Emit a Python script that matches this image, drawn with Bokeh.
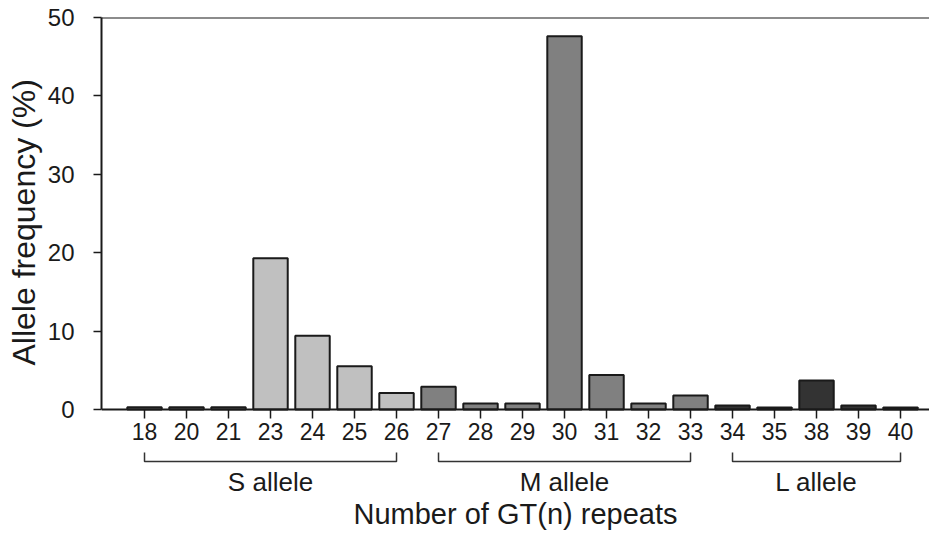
from bokeh.plotting import figure
from bokeh.models import Range1d, Span, FixedTicker, ColumnDataSource, Title
from bokeh.core.properties import value
from bokeh.embed import file_html
from bokeh.resources import INLINE

repeats = ["18", "20", "21", "23", "24", "25", "26", "27", "28", "29",
           "30", "31", "32", "33", "34", "35", "38", "39", "40"]
frequency = [0.3, 0.3, 0.3, 19.3, 9.4, 5.5, 2.1, 2.9, 0.75, 0.75,
             47.6, 4.4, 0.75, 1.8, 0.5, 0.25, 3.7, 0.5, 0.25]
allele_group = ["S"] * 7 + ["M"] * 7 + ["L"] * 5
group_names = ["S allele", "M allele", "L allele"]
group_keys = ["S", "M", "L"]
group_colors = {"S": "#c0c0c0", "M": "#808080", "L": "#333333"}
y_ticks = [0, 10, 20, 30, 40, 50]
y_title = "Allele frequency (%)"
x_title = "Number of GT(n) repeats"

FONT = "Liberation Sans"

xs = list(range(len(repeats)))
src = ColumnDataSource(dict(x=xs, top=frequency,
                            color=[group_colors[g] for g in allele_group]))

p = figure(width=929, height=536, output_backend="svg", toolbar_location=None,
           x_range=Range1d(-1.024, 18.69), y_range=Range1d(-16.2, 50),
           min_border_left=101, min_border_right=0, min_border_top=17,
           min_border_bottom=0)
p.outline_line_color = None
p.grid.visible = False
p.background_fill_color = "white"

p.vbar(x="x", top="top", width=0.82, bottom=0, source=src,
       fill_color="color", line_color="#1a1a1a", line_width=2)

p.add_layout(Span(location=50, dimension="width", line_color="#1a1a1a", line_width=2))

# x axis
xa = p.xaxis[0]
xa.fixed_location = 0
xa.ticker = FixedTicker(ticks=xs)
xa.major_label_overrides = {i: r for i, r in enumerate(repeats)}
xa.minor_tick_line_color = None
xa.major_tick_in = 0
xa.major_tick_out = 9
xa.major_label_standoff = 5
xa.axis_line_width = 2
xa.major_tick_line_width = 1.5
xa.axis_line_color = "#1a1a1a"
xa.major_tick_line_color = "#1a1a1a"
xa.major_label_text_font = FONT
xa.major_label_text_font_size = "23px"
xa.major_label_text_color = "#1a1a1a"
xa.axis_label = x_title
xa.axis_label_text_font = FONT
xa.axis_label_text_font_size = "29px"
xa.axis_label_text_font_style = "normal"
xa.axis_label_text_color = "#1a1a1a"
xa.axis_label_standoff = 54

# y axis
ya = p.yaxis[0]
ya.bounds = (0, 50)
ya.ticker = FixedTicker(ticks=y_ticks)
ya.minor_tick_line_color = None
ya.major_tick_in = 0
ya.major_tick_out = 8
ya.major_label_standoff = 19
ya.axis_line_width = 2
ya.major_tick_line_width = 1.5
ya.axis_line_color = "#1a1a1a"
ya.major_tick_line_color = "#1a1a1a"
ya.major_label_text_font = FONT
ya.major_label_text_font_size = "24px"
ya.major_label_text_color = "#1a1a1a"

# y axis title placed in the left panel, shifted to sit over the 0-50 span
p.add_layout(Title(text=y_title, align="left", offset=171, standoff=6,
                   text_font=FONT, text_font_size="32px", text_font_style="normal",
                   text_color="#1a1a1a"), "left")

# group brackets and labels
b_top, b_bot, lab_y = -5.48, -6.63, -9.31
bx, by, lx, ly = [], [], [], []
for key, name in zip(group_keys, group_names):
    idx = [i for i, g in enumerate(allele_group) if g == key]
    a, b = idx[0], idx[-1]
    bx.append([a, a, b, b])
    by.append([b_top, b_bot, b_bot, b_top])
    lx.append((a + b) / 2)
    ly.append(lab_y)
p.multi_line(xs=bx, ys=by, line_color="#333333", line_width=1.5)
p.text(x=lx, y=ly, text=group_names, text_font=value(FONT), text_font_size="26px",
       text_align="center", text_baseline="middle", text_color="#1a1a1a")

open("out.html", "w").write(file_html(p, INLINE))
